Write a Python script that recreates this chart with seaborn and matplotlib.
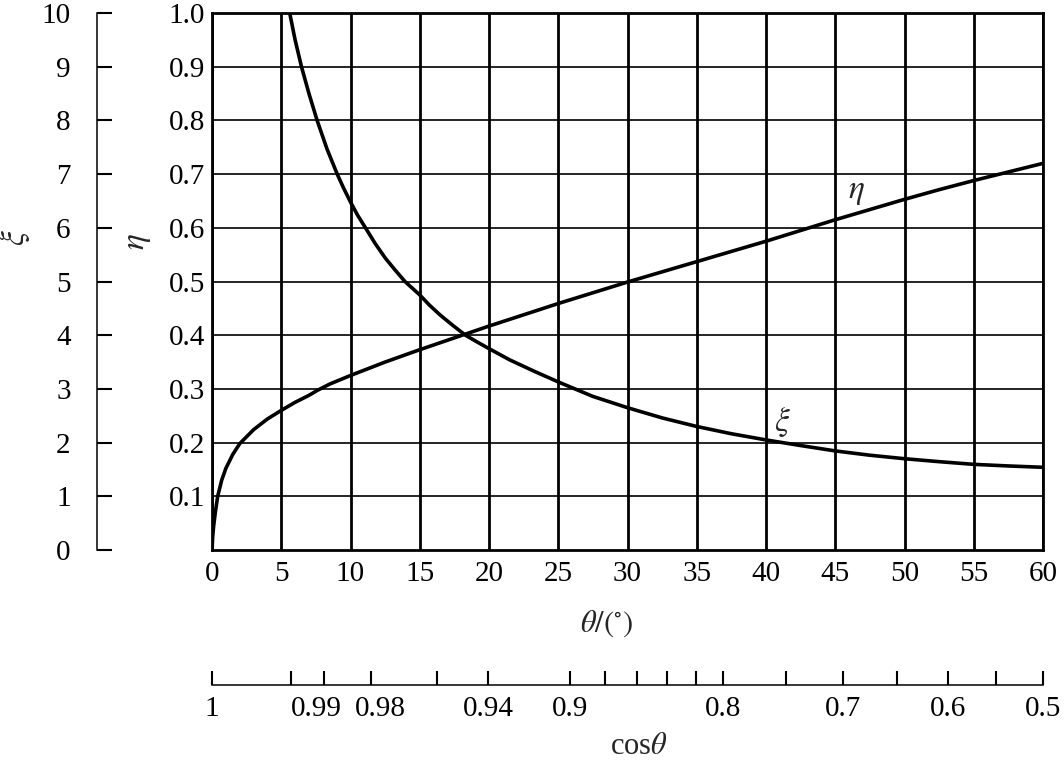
import numpy as np
import pandas as pd
import matplotlib
matplotlib.use("Agg")
import matplotlib.pyplot as plt
import matplotlib.transforms as mtransforms
import seaborn as sns

# curve readings (theta in degrees)
theta_eta = [0, 0.05, 0.12, 0.25, 0.41, 0.7, 1, 1.5, 2, 3, 4, 5, 6, 7, 7.59, 8.5, 10, 12.5, 15,
             17.5, 20, 22.5, 25, 27.5, 30, 32.5, 35, 37.5, 40, 42.5, 45, 47.5, 50, 52.5, 55, 57.5, 60]
eta = [0, 0.025, 0.045, 0.072, 0.1, 0.13, 0.152, 0.178, 0.198, 0.224, 0.244, 0.26, 0.275, 0.288,
       0.297, 0.309, 0.325, 0.35, 0.373, 0.395, 0.417, 0.438, 0.459, 0.479, 0.499, 0.518, 0.537,
       0.556, 0.575, 0.595, 0.615, 0.634, 0.653, 0.671, 0.688, 0.704, 0.72]

theta_xi = [5.61, 6.0, 6.46, 7.0, 7.59, 8.3, 9.04, 9.5, 10, 10.5, 11.08, 11.75, 12.5, 13.2, 13.93,
            15, 15.7, 16.5, 17.4, 18.3, 19.1, 20, 21.5, 23.25, 25, 27.5, 30, 32.5, 35, 37.5, 40,
            42.5, 45, 47.5, 50, 52.5, 55, 57.5, 60]
xi = [10, 9.5, 9.0, 8.5, 8.0, 7.47, 7.0, 6.74, 6.48, 6.24, 6.0, 5.72, 5.44, 5.22, 5.0,
      4.75, 4.56, 4.37, 4.18, 4.0, 3.88, 3.75, 3.54, 3.33, 3.13, 2.86, 2.65, 2.46, 2.3, 2.165, 2.05,
      1.945, 1.845, 1.765, 1.70, 1.645, 1.595, 1.565, 1.54]

theta_ticks = list(range(0, 61, 5))
eta_ticks = [0.1, 0.2, 0.3, 0.4, 0.5, 0.6, 0.7, 0.8, 0.9, 1.0]
xi_ticks = list(range(0, 11))
cos_major = [1, 0.99, 0.98, 0.94, 0.9, 0.8, 0.7, 0.6, 0.5]
cos_major_text = ["1", "0.99", "0.98", "0.94", "0.9", "0.8", "0.7", "0.6", "0.5"]
cos_minor = [0.995, 0.96, 0.88, 0.86, 0.84, 0.82, 0.75, 0.65, 0.55]
# small nudges (points) so crowded labels do not overlap
cos_nudge = {"0.99": -6, "0.98": 7}

sns.set_theme(style="white")
plt.rcParams["font.family"] = ["Liberation Serif", "DejaVu Serif"]
plt.rcParams["mathtext.fontset"] = "stix"
plt.rcParams["font.size"] = 21

df_eta = pd.DataFrame({"theta": theta_eta, "val": eta})
df_xi = pd.DataFrame({"theta": theta_xi, "val": xi})

fig = plt.figure(figsize=(10.64, 7.61), dpi=100)
ax = fig.add_axes([212 / 1064, 1 - 550 / 761, (1043 - 212) / 1064, (550 - 13) / 761])

sns.lineplot(data=df_eta, x="theta", y="val", ax=ax, color="black", linewidth=2.6)
ax.set_xlim(0, 60)
ax.set_ylim(0, 1.0)
ax.set_xticks(theta_ticks)
ax.set_yticks(eta_ticks)
ax.set_yticklabels([f"{v:.1f}" for v in eta_ticks])
ax.set_xlabel("")
ax.set_ylabel("")
ax.tick_params(axis="both", direction="in", length=0, labelsize=21, colors="black")
ax.tick_params(axis="x", pad=8)
ax.tick_params(axis="y", pad=5)
for s in ax.spines.values():
    s.set_color("black")
    s.set_linewidth(2.0)
ax.grid(True, axis="x", color="black", linewidth=2.0)
ax.grid(True, axis="y", color="black", linewidth=1.2)

# xi on its own scale, sharing theta
ax2 = ax.twinx()
sns.lineplot(data=df_xi, x="theta", y="val", ax=ax2, color="black", linewidth=2.6)
ax2.set_ylim(0, 10)
ax2.set_xlim(0, 60)
ax2.set_ylabel("")
ax2.yaxis.set_ticks_position("left")
ax2.spines["left"].set_position(("axes", (97 - 212) / (1043 - 212)))
for k in ["right", "top", "bottom"]:
    ax2.spines[k].set_visible(False)
ax2.spines["left"].set_color("black")
ax2.spines["left"].set_linewidth(1.1)
ax2.set_yticks(xi_ticks)
ax2.tick_params(axis="y", direction="in", length=11, width=1.5, labelsize=21, colors="black", pad=19)
ax2.grid(False)

# cos(theta) scale below
ax3 = ax.twiny()
ax3.set_xlim(0, 60)
ax3.xaxis.set_ticks_position("bottom")
ax3.spines["bottom"].set_position(("axes", -(685 - 550) / 537))
for k in ["left", "right", "top"]:
    ax3.spines[k].set_visible(False)
ax3.spines["bottom"].set_color("black")
ax3.spines["bottom"].set_linewidth(1.1)
ax3.set_xticks(np.degrees(np.arccos(cos_major)))
ax3.set_xticks(np.degrees(np.arccos(cos_minor)), minor=True)
ax3.set_xticklabels([])
ax3.tick_params(axis="x", which="both", direction="in", length=10, width=1.5, colors="black")
ax3.grid(False)
trans = mtransforms.blended_transform_factory(ax3.transData, ax.transAxes)
for c, lab in zip(cos_major, cos_major_text):
    ax3.annotate(lab, xy=(np.degrees(np.arccos(c)), -(685 - 550) / 537), xycoords=trans,
                 xytext=(cos_nudge.get(lab, 0), -8), textcoords="offset points",
                 ha="center", va="top", fontsize=21, color="black", annotation_clip=False)

# axis titles and curve names
fig.text(607 / 1064, 1 - 624 / 761, r"$\theta/(^{\circ})$", ha="center", va="center", fontsize=22)
fig.text(639 / 1064, 1 - 746 / 761, r"cos$\theta$", ha="center", va="center", fontsize=22)
fig.text(15 / 1064, 1 - 238 / 761, r"$\xi$", ha="center", va="center", fontsize=24, rotation=90)
fig.text(138 / 1064, 1 - 242 / 761, r"$\eta$", ha="center", va="center", fontsize=24, rotation=90)
ax.text(46.5, 0.667, r"$\eta$", ha="center", va="center", fontsize=24)
ax.text(41.2, 0.238, r"$\xi$", ha="center", va="center", fontsize=24)

fig.savefig("out.png", dpi=100)
